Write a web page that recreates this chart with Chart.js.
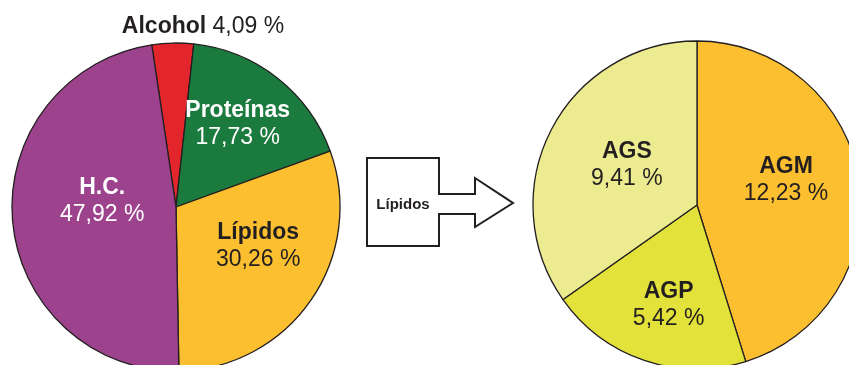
<!DOCTYPE html>
<html>
<head>
<meta charset="utf-8">
<script src="https://cdn.jsdelivr.net/npm/chart.js@4"></script>
<style>
  html, body { margin: 0; padding: 0; background: #fff; }
  body { width: 849px; height: 365px; overflow: hidden; position: relative; }
  .box { position: absolute; }
  #arrow { position: absolute; left: 0; top: 0; }
</style>
</head>
<body>
<div class="box" style="left:0;top:0;width:352px;height:414px"><canvas id="left"></canvas></div>
<div class="box" style="left:527px;top:0;width:340px;height:410px"><canvas id="right"></canvas></div>
<svg id="arrow" width="849" height="365">
  <polygon points="367,158 439,158 439,194 475,194 475,178 513,203 475,227 475,214 439,214 439,246 367,246"
    fill="#fff" stroke="#231f20" stroke-width="2" stroke-linejoin="miter"/>
  <text x="403" y="209" text-anchor="middle" font-family="Liberation Sans, Arial, sans-serif"
    font-weight="bold" font-size="15" fill="#231f20">Lípidos</text>
</svg>
<script>
// energy share (%) of the diet
var dietLabels = ["Alcohol", "Proteínas", "Lípidos", "H.C."];
var dietValues = [4.09, 17.73, 30.26, 47.92];
var dietColors = ["#e3262c", "#1b7a3e", "#fbbf30", "#9d428d"];

// fatty acids inside the lipid share
var fatLabels = ["AGM", "AGP", "AGS"];
var fatValues = [12.23, 5.42, 9.41];
var fatColors = ["#fbbf30", "#e2e23a", "#eceb90"];

var FONT = "'Liberation Sans', Arial, Helvetica, sans-serif";
var DARK = "#231f20";

function pct(v) { return v.toFixed(2).replace(".", ",") + " %"; }

// writes name (bold) + value under each slice
var sliceLabels = {
  id: "sliceLabels",
  afterDatasetsDraw(chart, args, opts) {
    var ctx = chart.ctx;
    var meta = chart.getDatasetMeta(0);
    var values = chart.data.datasets[0].data;
    var names = chart.data.labels;
    ctx.save();
    meta.data.forEach(function (arc, i) {
      var p = arc.getProps(["x", "y", "startAngle", "endAngle", "outerRadius"], true);
      var pl = opts.place[i];
      ctx.fillStyle = pl.color;
      if (pl.outside) {
        // name and value on one line above the pie
        ctx.font = "bold 23px " + FONT;
        var w1 = ctx.measureText(names[i]).width;
        ctx.font = "23px " + FONT;
        var w2 = ctx.measureText(" " + pct(values[i])).width;
        var x0 = p.x + pl.dx - (w1 + w2) / 2;
        var yb = p.y - p.outerRadius + pl.dy;
        ctx.textAlign = "left";
        ctx.textBaseline = "alphabetic";
        ctx.font = "bold 23px " + FONT;
        ctx.fillText(names[i], x0, yb);
        ctx.font = "23px " + FONT;
        ctx.fillText(" " + pct(values[i]), x0 + w1, yb);
        return;
      }
      var a = (p.startAngle + p.endAngle) / 2 + pl.shift * Math.PI / 180;
      var r = p.outerRadius * pl.r;
      var cx = p.x + Math.cos(a) * r;
      var cy = p.y + Math.sin(a) * r;
      ctx.textAlign = "center";
      ctx.textBaseline = "alphabetic";
      ctx.font = "bold 23px " + FONT;
      ctx.fillText(names[i], cx, cy - 13);
      ctx.font = "23px " + FONT;
      ctx.fillText(pct(values[i]), cx, cy + 14);
    });
    ctx.restore();
  }
};

function pieOptions(rotation, place) {
  return {
    responsive: true,
    maintainAspectRatio: false,
    animation: false,
    rotation: rotation,
    radius: 164,
    layout: { padding: 0 },
    plugins: {
      legend: { display: false },
      tooltip: { enabled: false },
      sliceLabels: { place: place }
    }
  };
}

new Chart("left", {
  type: "pie",
  data: {
    labels: dietLabels,
    datasets: [{
      data: dietValues,
      backgroundColor: dietColors,
      borderColor: DARK,
      borderWidth: 1.3
    }]
  },
  options: pieOptions(-8.5, [
    { outside: true, dx: 27, dy: -10, color: DARK },
    { r: 0.6, shift: 0.7, color: "#ffffff" },
    { r: 0.57, shift: -6, color: DARK },
    { r: 0.45, shift: 4.8, color: "#ffffff" }
  ]),
  plugins: [sliceLabels]
});

new Chart("right", {
  type: "pie",
  data: {
    labels: fatLabels,
    datasets: [{
      data: fatValues,
      backgroundColor: fatColors,
      borderColor: DARK,
      borderWidth: 1.3
    }]
  },
  options: pieOptions(0, [
    { r: 0.555, shift: -3.4, color: DARK },
    { r: 0.67, shift: -3.8, color: DARK },
    { r: 0.476, shift: -1.4, color: DARK }
  ]),
  plugins: [sliceLabels]
});
</script>
</body>
</html>
